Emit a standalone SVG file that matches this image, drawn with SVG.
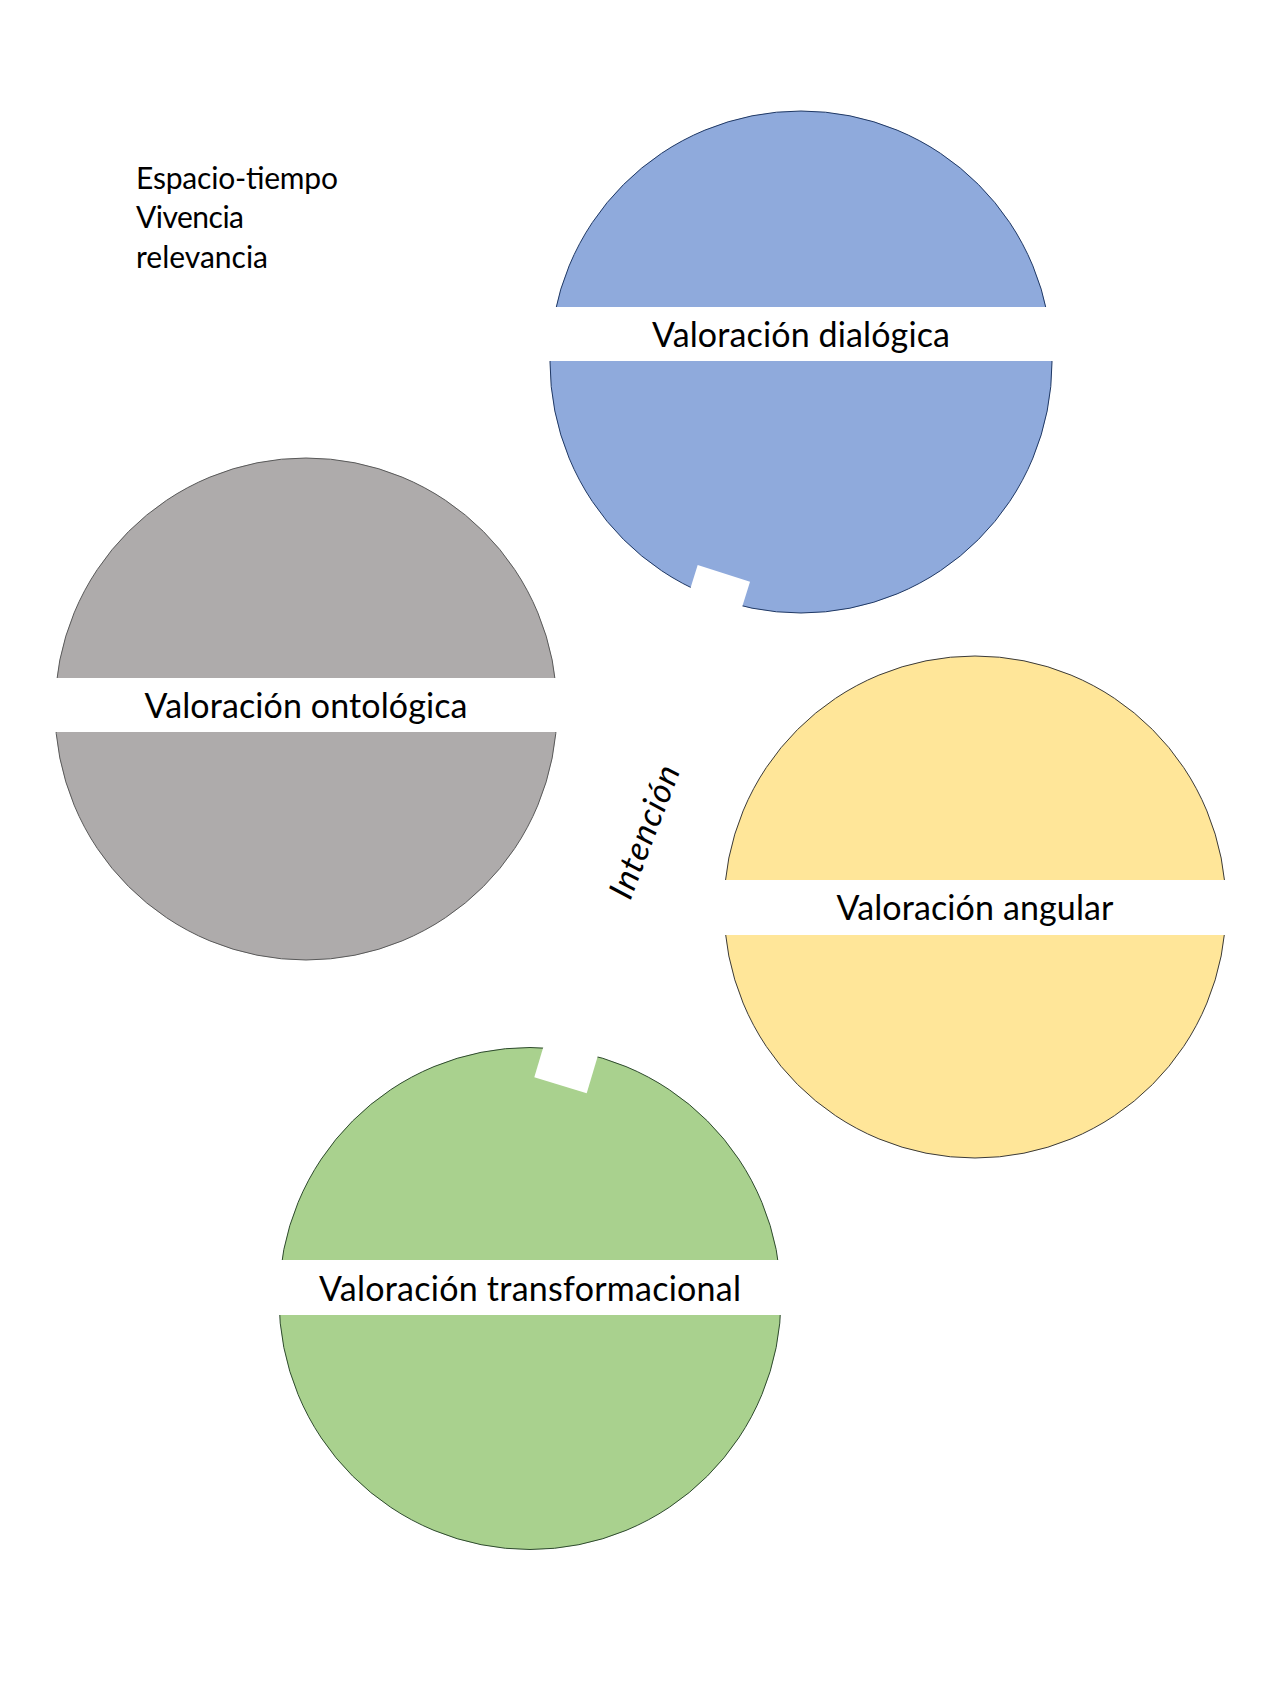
<svg xmlns="http://www.w3.org/2000/svg" width="1280" height="1707" viewBox="0 0 1280 1707">
  <style>
    .lbl { font-family: Lato, "Liberation Sans", sans-serif; font-size: 34px; fill: #000; text-anchor: middle; }
    .note { font-family: Lato, "Liberation Sans", sans-serif; font-size: 30px; fill: #000; }
    .band { fill: #FFFFFF; }
    .notch { fill: #FFFFFF; }
  </style>
  <rect width="1280" height="1707" fill="#FFFFFF"/>

  <g id="note">
    <text class="note" x="136" y="189" textLength="202">Espacio-tiempo</text>
    <text class="note" x="136" y="228" textLength="108">Vivencia</text>
    <text class="note" x="136" y="268" textLength="132">relevancia</text>
  </g>

  <g id="dialogica">
    <circle cx="801" cy="362" r="251" fill="#8FAADC" stroke="#1F3864" stroke-width="1"/>
    <rect class="band" x="540" y="307" width="522" height="54"/>
    <polygon class="notch" points="697.7,565 750,581.7 737.8,621 685.5,604"/>
    <text class="lbl" x="801" y="347" textLength="298">Valoración dialógica</text>
  </g>

  <g id="ontologica">
    <circle cx="306" cy="709" r="251" fill="#AEABAB" stroke="#595959" stroke-width="1"/>
    <rect class="band" x="45" y="678" width="522" height="54"/>
    <text class="lbl" x="306" y="718" textLength="323">Valoración ontológica</text>
  </g>

  <g id="angular">
    <circle cx="975" cy="907" r="251" fill="#FFE699" stroke="#3A3A3A" stroke-width="1"/>
    <rect class="band" x="714" y="880" width="522" height="55"/>
    <text class="lbl" x="975" y="920" textLength="277">Valoración angular</text>
  </g>

  <g id="transformacional">
    <circle cx="530" cy="1298.5" r="251" fill="#A9D18E" stroke="#2E4A2E" stroke-width="1"/>
    <rect class="band" x="269" y="1260" width="522" height="55"/>
    <polygon class="notch" points="546,1038 598.4,1054 586.7,1093.3 534.3,1077.3"/>
    <text class="lbl" x="530" y="1301" textLength="422">Valoración transformacional</text>
  </g>

  <g id="intencion">
    <text class="lbl" transform="translate(645,832) rotate(-69)" x="0" y="11" font-style="italic" textLength="140">Intención</text>
  </g>

  <g id="connectors"></g>
</svg>
